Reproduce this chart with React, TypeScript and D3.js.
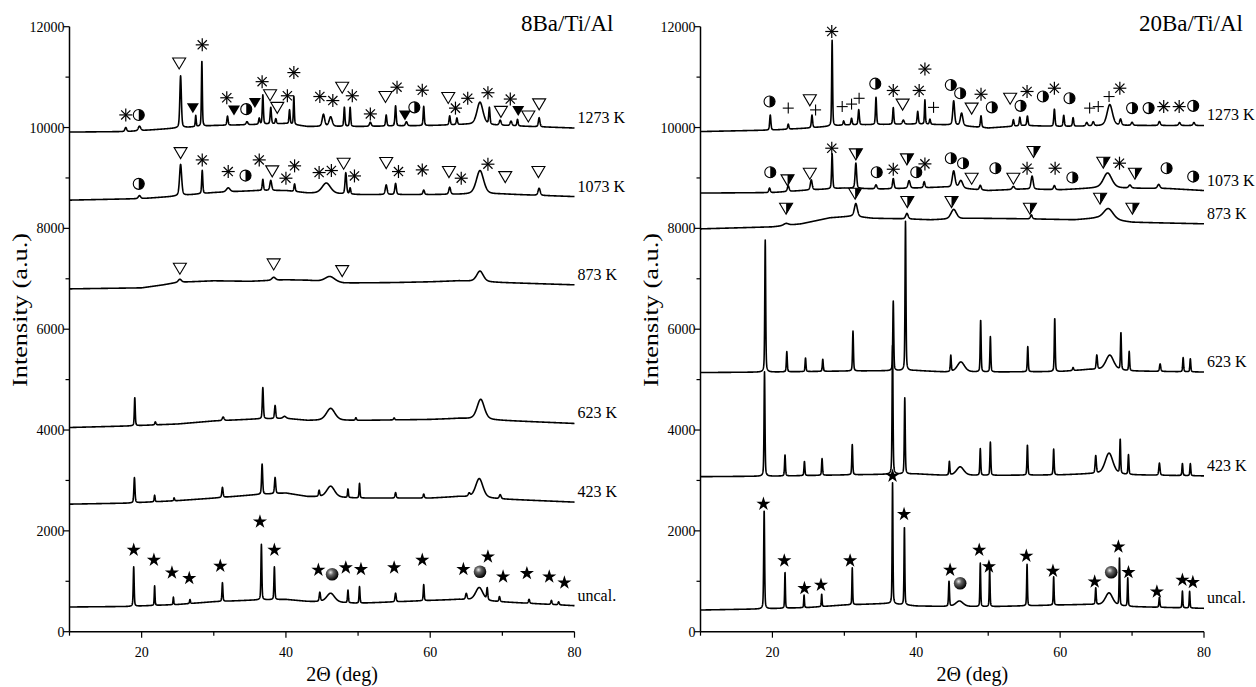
import React from "react";
import * as d3 from "d3";

type Pt = [number, number];
type Peak = [number, number, number]; // 2theta, height above baseline, fwhm (deg)
type Mark = [number, number, string]; // 2theta, intensity, symbol

// ---------------- 8Ba/Ti/Al ----------------
const b8UncalBase: Pt[] = [[10, 490], [18, 500], [25, 540], [30, 595], [36, 630], [40, 640], [43, 600], [50, 563], [60, 620], [64, 640], [70, 590], [80, 516]];
const b8UncalPeaks: Peak[] = [[18.9, 780, 0.15], [21.8, 390, 0.12], [24.4, 150, 0.12], [26.7, 80, 0.15], [31.2, 370, 0.15], [36.6, 1100, 0.15], [38.4, 650, 0.15], [44.7, 180, 0.2], [46.2, 180, 1.3], [48.6, 250, 0.15], [50.2, 330, 0.15], [55.2, 170, 0.2], [59.1, 320, 0.15], [65.0, 120, 0.25], [66.8, 260, 1.2], [67.9, 230, 0.18], [69.6, 100, 0.2], [73.7, 80, 0.2], [76.8, 80, 0.2], [77.8, 60, 0.2]];
const b8_423Base: Pt[] = [[10, 2530], [18, 2550], [25, 2600], [30, 2650], [36, 2720], [40, 2750], [43, 2680], [50, 2650], [60, 2650], [64, 2680], [70, 2630], [80, 2570]];
const b8_423Peaks: Peak[] = [[19.0, 500, 0.18], [21.8, 130, 0.15], [24.5, 60, 0.15], [31.2, 200, 0.2], [36.7, 600, 0.18], [38.5, 320, 0.2], [44.6, 120, 0.2], [46.2, 220, 1.3], [48.6, 170, 0.15], [50.2, 290, 0.15], [55.2, 110, 0.2], [59.1, 80, 0.2], [65.4, 60, 0.3], [66.8, 380, 1.2], [69.7, 80, 0.3]];
const b8_623Base: Pt[] = [[10, 4050], [18, 4080], [25, 4120], [30, 4180], [36, 4220], [40, 4230], [43, 4190], [50, 4190], [60, 4210], [64, 4230], [70, 4190], [80, 4130]];
const b8_623Peaks: Peak[] = [[19.05, 560, 0.15], [21.9, 60, 0.2], [31.3, 70, 0.3], [36.8, 620, 0.18], [38.5, 260, 0.2], [39.8, 40, 0.5], [46.2, 240, 1.4], [49.7, 50, 0.2], [55.0, 40, 0.2], [67.0, 400, 1.2]];
const b8_873Base: Pt[] = [[10, 6800], [20, 6820], [23, 6880], [25, 6930], [30, 6960], [35, 6950], [40, 6980], [43, 6970], [48, 6915], [55, 6925], [60, 6940], [64, 6960], [70, 6925], [80, 6880]];
const b8_873Peaks: Peak[] = [[25.3, 60, 0.5], [38.3, 60, 0.6], [46.1, 110, 1.6], [66.9, 210, 1.1]];
const b8_1073Base: Pt[] = [[10, 8560], [20, 8590], [24, 8630], [30, 8710], [36, 8750], [40, 8750], [43, 8700], [50, 8670], [60, 8670], [70, 8680], [80, 8630]];
const b8_1073Peaks: Peak[] = [[19.7, 60, 0.4], [25.4, 620, 0.35], [28.4, 460, 0.18], [32.0, 80, 0.6], [36.8, 220, 0.2], [37.9, 200, 0.3], [41.2, 150, 0.2], [45.6, 210, 1.4], [48.3, 420, 0.25], [48.9, 120, 0.2], [53.9, 190, 0.3], [55.2, 220, 0.25], [59.1, 90, 0.25], [62.7, 140, 0.3], [66.9, 470, 1.2], [75.1, 140, 0.35]];
const b8_1273Base: Pt[] = [[10, 9910], [18, 9920], [24, 9980], [30, 10040], [36, 10060], [40, 10080], [43, 10020], [50, 10020], [60, 10040], [65, 10060], [70, 10040], [80, 9990]];
const b8_1273Peaks: Peak[] = [[17.8, 80, 0.3], [19.7, 90, 0.4], [25.4, 1030, 0.25], [27.5, 220, 0.15], [28.35, 1300, 0.15], [31.9, 180, 0.2], [34.6, 60, 0.3], [36.3, 120, 0.2], [36.8, 580, 0.18], [37.9, 330, 0.2], [38.6, 100, 0.2], [40.5, 280, 0.18], [41.1, 560, 0.15], [45.2, 240, 0.4], [46.2, 190, 0.5], [48.1, 380, 0.18], [48.9, 380, 0.18], [51.7, 80, 0.3], [53.9, 220, 0.2], [55.2, 400, 0.2], [56.7, 80, 0.3], [59.1, 380, 0.18], [62.7, 180, 0.2], [63.7, 130, 0.2], [66.9, 450, 1.0], [68.2, 330, 0.2], [69.7, 100, 0.3], [71.2, 90, 0.3], [72.1, 130, 0.2], [75.1, 180, 0.25]];

const b8_1273Marks: Mark[] = [[17.8, 10250, "ast"], [19.6, 10250, "half"], [25.2, 11280, "tri"], [27.1, 10390, "triF"], [28.4, 11640, "ast"], [31.8, 10590, "ast"], [32.8, 10350, "triF"], [34.5, 10365, "half"], [35.7, 10495, "triF"], [36.7, 10910, "ast"], [37.8, 10650, "tri"], [38.8, 10400, "tri"], [40.2, 10630, "ast"], [41.1, 11090, "ast"], [44.7, 10615, "ast"], [46.5, 10535, "ast"], [47.8, 10800, "tri"], [49.2, 10630, "ast"], [51.7, 10270, "ast"], [53.8, 10615, "tri"], [55.4, 10800, "ast"], [56.5, 10250, "triF"], [57.8, 10400, "half"], [58.9, 10740, "ast"], [62.5, 10595, "tri"], [63.5, 10385, "ast"], [65.2, 10580, "ast"], [68.0, 10690, "ast"], [69.8, 10320, "tri"], [71.1, 10565, "ast"], [72.2, 10340, "triF"], [73.6, 10230, "tri"], [75.1, 10470, "tri"]];
const b8_1073Marks: Mark[] = [[19.6, 8883, "half"], [25.4, 9503, "tri"], [28.4, 9358, "ast"], [32.0, 9127, "ast"], [34.4, 9047, "half"], [36.3, 9358, "ast"], [38.1, 9140, "tri"], [40.0, 8995, "ast"], [41.2, 9240, "ast"], [44.6, 9107, "ast"], [46.3, 9147, "ast"], [48.0, 9293, "tri"], [49.5, 9040, "ast"], [53.9, 9305, "tri"], [55.6, 9127, "ast"], [58.9, 9160, "ast"], [62.6, 9127, "tri"], [64.3, 8995, "ast"], [68.0, 9273, "ast"], [70.4, 9027, "tri"], [75.0, 9127, "tri"]];
const b8_873Marks: Mark[] = [[25.3, 7210, "tri"], [38.3, 7295, "tri"], [47.8, 7162, "tri"]];
const b8UncalMarks: Mark[] = [[18.9, 1620, "star"], [21.7, 1422, "star"], [24.2, 1170, "star"], [26.6, 1060, "star"], [30.9, 1303, "star"], [36.4, 2182, "star"], [38.4, 1620, "star"], [44.5, 1224, "star"], [46.4, 1139, "ball"], [48.3, 1270, "star"], [50.4, 1238, "star"], [55.0, 1270, "star"], [58.9, 1422, "star"], [64.6, 1238, "star"], [66.9, 1190, "ball"], [68.0, 1488, "star"], [70.1, 1091, "star"], [73.4, 1158, "star"], [76.5, 1091, "star"], [78.6, 972, "star"]];

// ---------------- 20Ba/Ti/Al ----------------
const b20UncalBase: Pt[] = [[10, 430], [18, 450], [25, 480], [30, 530], [36, 560], [40, 510], [44, 500], [50, 496], [60, 530], [64, 540], [70, 496], [80, 463]];
const b20UncalPeaks: Peak[] = [[18.85, 1960, 0.15], [21.75, 720, 0.12], [24.4, 250, 0.12], [26.85, 250, 0.12], [31.1, 730, 0.12], [36.7, 2400, 0.13], [38.35, 1560, 0.13], [44.55, 500, 0.15], [46.0, 110, 1.2], [48.9, 860, 0.13], [50.2, 760, 0.13], [55.4, 820, 0.13], [59.1, 560, 0.13], [64.95, 330, 0.15], [66.8, 250, 1.2], [68.25, 950, 0.13], [69.4, 560, 0.13], [73.8, 200, 0.15], [77.0, 330, 0.13], [78.0, 330, 0.13]];
const b20_423Base: Pt[] = [[10, 3075], [20, 3085], [30, 3110], [40, 3130], [44, 3100], [50, 3100], [60, 3110], [64, 3130], [70, 3110], [80, 3090]];
const b20_423Peaks: Peak[] = [[18.9, 2070, 0.15], [21.75, 420, 0.15], [24.45, 280, 0.15], [26.9, 330, 0.15], [31.1, 600, 0.15], [36.7, 2550, 0.15], [38.4, 1510, 0.15], [44.6, 270, 0.15], [46.1, 170, 1.2], [48.9, 530, 0.15], [50.3, 660, 0.15], [55.45, 600, 0.15], [59.1, 510, 0.15], [64.95, 350, 0.2], [66.8, 420, 1.3], [68.35, 680, 0.15], [69.5, 390, 0.15], [73.8, 240, 0.2], [77.0, 240, 0.15], [78.1, 240, 0.15]];
const b20_623Base: Pt[] = [[10, 5140], [20, 5150], [30, 5170], [40, 5180], [44, 5150], [50, 5150], [60, 5160], [64, 5200], [70, 5170], [80, 5150]];
const b20_623Peaks: Peak[] = [[19.0, 2620, 0.15], [22.0, 400, 0.15], [24.6, 270, 0.15], [27.0, 240, 0.15], [31.2, 790, 0.15], [36.8, 1380, 0.15], [38.5, 2960, 0.15], [44.8, 320, 0.15], [46.2, 200, 1.2], [48.95, 1030, 0.15], [50.3, 700, 0.15], [55.5, 500, 0.15], [59.25, 1060, 0.15], [61.8, 60, 0.2], [65.1, 280, 0.2], [66.9, 300, 1.3], [68.45, 740, 0.15], [69.6, 380, 0.15], [73.9, 150, 0.2], [77.1, 280, 0.15], [78.1, 260, 0.15]];
const b20_873Base: Pt[] = [[10, 7990], [20, 8030], [24, 8090], [28, 8210], [31, 8240], [34, 8200], [38, 8190], [42, 8170], [48, 8200], [55, 8190], [62, 8170], [65, 8200], [70, 8120], [80, 8090]];
const b20_873Peaks: Peak[] = [[21.9, 40, 0.8], [31.6, 260, 0.5], [38.7, 110, 0.4], [45.2, 190, 0.9], [56.0, 80, 0.3], [66.7, 220, 1.6]];
const b20_1073Base: Pt[] = [[10, 8700], [20, 8710], [25, 8760], [30, 8800], [35, 8780], [40, 8800], [44, 8820], [50, 8750], [55, 8780], [60, 8765], [65, 8800], [75, 8790], [80, 8750]];
const b20_1073Peaks: Peak[] = [[19.6, 90, 0.25], [22.2, 110, 0.3], [25.4, 200, 0.3], [28.3, 690, 0.18], [31.6, 500, 0.25], [34.4, 80, 0.3], [36.8, 200, 0.25], [39.0, 150, 0.35], [41.1, 120, 0.25], [45.2, 330, 0.45], [46.2, 150, 0.6], [48.9, 90, 0.3], [53.5, 60, 0.4], [56.1, 260, 0.35], [59.2, 80, 0.3], [66.6, 300, 1.4], [69.7, 60, 0.4], [73.7, 80, 0.4]];
const b20_1273Base: Pt[] = [[10, 9920], [20, 9950], [25, 9990], [30, 10050], [40, 10070], [45, 10050], [50, 9990], [55, 10040], [60, 10020], [70, 10040], [80, 10040]];
const b20_1273Peaks: Peak[] = [[19.7, 300, 0.2], [22.2, 100, 0.2], [25.5, 250, 0.2], [28.3, 1700, 0.15], [29.9, 80, 0.2], [31.0, 130, 0.2], [32.0, 300, 0.2], [34.4, 540, 0.18], [36.8, 330, 0.18], [38.2, 80, 0.3], [40.2, 250, 0.2], [41.2, 480, 0.15], [41.9, 100, 0.2], [45.2, 480, 0.3], [46.3, 250, 0.4], [49.0, 230, 0.2], [53.5, 130, 0.2], [54.4, 170, 0.2], [55.45, 190, 0.2], [59.2, 340, 0.2], [60.5, 220, 0.2], [61.8, 170, 0.2], [63.7, 70, 0.3], [64.6, 80, 0.3], [66.9, 420, 0.9], [68.4, 120, 0.3], [70.0, 60, 0.3], [73.8, 80, 0.3], [76.6, 60, 0.3], [78.6, 60, 0.3]];

const b20_1273Marks: Mark[] = [[19.6, 10515, "half"], [22.2, 10385, "plus"], [25.2, 10550, "tri"], [26.0, 10350, "plus"], [28.25, 11905, "ast"], [29.7, 10415, "plus"], [31.0, 10465, "plus"], [32.05, 10580, "plus"], [34.3, 10870, "half"], [36.8, 10735, "ast"], [38.1, 10465, "tri"], [40.4, 10735, "ast"], [41.2, 11160, "ast"], [42.4, 10400, "plus"], [44.8, 10845, "half"], [46.1, 10680, "half"], [47.7, 10385, "tri"], [49.0, 10660, "ast"], [50.5, 10400, "half"], [53.05, 10580, "tri"], [54.5, 10430, "half"], [55.4, 10715, "ast"], [57.6, 10615, "half"], [59.2, 10780, "ast"], [61.3, 10580, "half"], [64.1, 10385, "plus"], [65.3, 10415, "plus"], [66.8, 10615, "plus"], [68.3, 10780, "ast"], [70.0, 10385, "half"], [72.3, 10385, "half"], [74.4, 10415, "ast"], [76.55, 10415, "ast"], [78.5, 10430, "half"]];
const b20_1073Marks: Mark[] = [[19.7, 9113, "half"], [22.1, 8962, "triH"], [25.2, 9093, "tri"], [28.25, 9590, "ast"], [31.6, 9478, "triH"], [34.5, 9113, "half"], [36.8, 9173, "ast"], [38.7, 9378, "triH"], [40.0, 9113, "half"], [41.2, 9279, "ast"], [44.8, 9392, "half"], [46.5, 9293, "half"], [47.7, 8995, "tri"], [51.0, 9193, "half"], [53.5, 8995, "tri"], [55.4, 9193, "ast"], [56.3, 9525, "triH"], [59.3, 9193, "ast"], [61.7, 9010, "half"], [66.0, 9312, "triH"], [68.25, 9293, "ast"], [70.4, 9093, "triH"], [74.8, 9193, "half"], [78.5, 9027, "half"]];
const b20_873Marks: Mark[] = [[21.9, 8400, "triH"], [31.5, 8698, "triH"], [38.75, 8532, "triH"], [44.9, 8532, "triH"], [55.8, 8400, "triH"], [65.55, 8598, "triH"], [70.05, 8400, "triH"]];
const b20UncalMarks: Mark[] = [[18.75, 2534, "star"], [21.65, 1409, "star"], [24.45, 861, "star"], [26.75, 927, "star"], [30.8, 1409, "star"], [36.7, 3089, "star"], [38.3, 2329, "star"], [44.7, 1224, "star"], [46.1, 960, "ball"], [48.75, 1620, "star"], [50.1, 1290, "star"], [55.3, 1502, "star"], [59.0, 1204, "star"], [64.8, 992, "star"], [67.1, 1178, "ball"], [68.1, 1686, "star"], [69.5, 1178, "star"], [73.45, 793, "star"], [77.0, 1025, "star"], [78.45, 980, "star"]];

const seriesLabels = ["uncal.", "423 K", "623 K", "873 K", "1073 K", "1273 K"];
const xTicks = [10, 20, 30, 40, 50, 60, 70, 80];
const yTicks = d3.range(0, 12001, 1000);

const panels = [
  {
    title: "8Ba/Ti/Al", x0: 69.5, x1: 574.5,
    patterns: [[b8UncalBase, b8UncalPeaks], [b8_423Base, b8_423Peaks], [b8_623Base, b8_623Peaks], [b8_873Base, b8_873Peaks], [b8_1073Base, b8_1073Peaks], [b8_1273Base, b8_1273Peaks]] as [Pt[], Peak[]][],
    marks: [...b8UncalMarks, ...b8_873Marks, ...b8_1073Marks, ...b8_1273Marks],
  },
  {
    title: "20Ba/Ti/Al", x0: 700.5, x1: 1204,
    patterns: [[b20UncalBase, b20UncalPeaks], [b20_423Base, b20_423Peaks], [b20_623Base, b20_623Peaks], [b20_873Base, b20_873Peaks], [b20_1073Base, b20_1073Peaks], [b20_1273Base, b20_1273Peaks]] as [Pt[], Peak[]][],
    marks: [...b20UncalMarks, ...b20_873Marks, ...b20_1073Marks, ...b20_1273Marks],
  },
];

const grid = d3.range(10, 80.0001, 0.02);
function pattern(base: Pt[], peaks: Peak[]): Pt[] {
  const bl = d3.scaleLinear().domain(base.map((d) => d[0])).range(base.map((d) => d[1]));
  return grid.map((t) => {
    let v = bl(t);
    for (const [p, h, w] of peaks) {
      const z = (t - p) / (w / 2);
      v += h * (0.6 * Math.exp(-Math.LN2 * z * z) + 0.4 / (1 + z * z));
    }
    return [t, v] as Pt;
  });
}

const FONT = "'Liberation Serif', 'Times New Roman', serif";
const starPath = d3.symbol(d3.symbolStar, 62)()!;

function Marker({ type, x, y }: { type: string; x: number; y: number }) {
  const t = `translate(${x},${y})`;
  switch (type) {
    case "ast":
      return (
        <g transform={t} stroke="#000" strokeWidth={1.2}>
          {[0, 45, 90, 135].map((a) => (
            <line key={a} x1={-6.5} y1={0} x2={6.5} y2={0} transform={`rotate(${a})`} />
          ))}
        </g>
      );
    case "tri":
      return <polygon transform={t} points="-6.5,-5 6.5,-5 0,6" fill="#fff" stroke="#000" strokeWidth={1.1} />;
    case "triF":
      return <polygon transform={t} points="-6,-4.5 6,-4.5 0,5.5" fill="#000" />;
    case "triH":
      return (
        <g transform={t}>
          <polygon points="-6.5,-5 6.5,-5 0,6" fill="#fff" stroke="#000" strokeWidth={1.1} />
          <polygon points="0,-5 6.5,-5 0,6" fill="#000" />
        </g>
      );
    case "half":
      return (
        <g transform={t}>
          <circle r={5.5} fill="#fff" stroke="#000" strokeWidth={1.1} />
          <path d="M0,-5.5 A5.5,5.5 0 0 1 0,5.5 Z" fill="#000" />
        </g>
      );
    case "plus":
      return (
        <g transform={t} stroke="#000" strokeWidth={1.1}>
          <line x1={-5.5} x2={5.5} y1={0} y2={0} />
          <line x1={0} x2={0} y1={-5.5} y2={5.5} />
        </g>
      );
    case "star":
      return <path transform={t} d={starPath} fill="#000" />;
    case "ball":
      return <circle transform={t} r={6.3} fill="url(#ballGrad)" />;
    default:
      return null;
  }
}

function Panel({ cfg }: { cfg: (typeof panels)[number] }) {
  const x = d3.scaleLinear().domain([10, 80]).range([cfg.x0, cfg.x1]);
  const y = d3.scaleLinear().domain([0, 12000]).range([631.7, 26.7]);
  const line = d3.line<Pt>().x((d) => x(d[0])).y((d) => y(d[1]));
  const mid = (cfg.x0 + cfg.x1) / 2;
  return (
    <g style={{ fontFamily: FONT }}>
      {cfg.patterns.map(([base, peaks], i) => {
        const pts = pattern(base, peaks);
        const last = pts[pts.length - 1];
        return (
          <g key={i}>
            <path d={line(pts)!} fill="none" stroke="#000" strokeWidth={1.6} strokeLinejoin="round" />
            <text x={x(80) + 3} y={y(last[1]) - 5} fontSize={16}>{seriesLabels[i]}</text>
          </g>
        );
      })}
      {cfg.marks.map((m, i) => (
        <Marker key={i} type={m[2]} x={x(m[0])} y={y(m[1])} />
      ))}
      {/* axes */}
      <line x1={x(10)} x2={x(80)} y1={y(0)} y2={y(0)} stroke="#000" strokeWidth={1.5} />
      <line x1={x(10)} x2={x(10)} y1={y(0)} y2={y(12000)} stroke="#000" strokeWidth={1.5} />
      {xTicks.map((t) => (
        <g key={t}>
          <line x1={x(t)} x2={x(t)} y1={y(0)} y2={y(0) + (t % 20 === 0 ? 6 : 4)} stroke="#000" strokeWidth={1.2} />
          {t % 20 === 0 && (
            <text x={x(t)} y={657} fontSize={14} textAnchor="middle">{t}</text>
          )}
        </g>
      ))}
      {yTicks.map((t) => (
        <g key={t}>
          <line x1={x(10)} x2={x(10) - (t % 2000 === 0 ? 6 : 4)} y1={y(t)} y2={y(t)} stroke="#000" strokeWidth={1.2} />
          {t % 2000 === 0 && (
            <text x={x(10) - 5} y={y(t) + 5} fontSize={14} textAnchor="end">{t}</text>
          )}
        </g>
      ))}
      <text x={mid + 20} y={681} fontSize={20} textAnchor="middle">2Θ (deg)</text>
      <text transform={`translate(${cfg.x0 - 43},310) rotate(-90)`} fontSize={20} textAnchor="middle" textLength={154} lengthAdjust="spacingAndGlyphs">Intensity (a.u.)</text>
      <text x={cfg.x1 + 39} y={31} fontSize={23} textAnchor="end">{cfg.title}</text>
    </g>
  );
}

export default function App() {
  return (
    <svg width={1256} height={687} style={{ position: "absolute", left: 0, top: 0, background: "#fff" }}>
      <defs>
        <radialGradient id="ballGrad" cx="38%" cy="35%" r="65%">
          <stop offset="0%" stopColor="#e8e8e8" />
          <stop offset="35%" stopColor="#666" />
          <stop offset="100%" stopColor="#000" />
        </radialGradient>
      </defs>
      <rect width={1256} height={687} fill="#fff" />
      {panels.map((p) => (
        <Panel key={p.title} cfg={p} />
      ))}
    </svg>
  );
}
